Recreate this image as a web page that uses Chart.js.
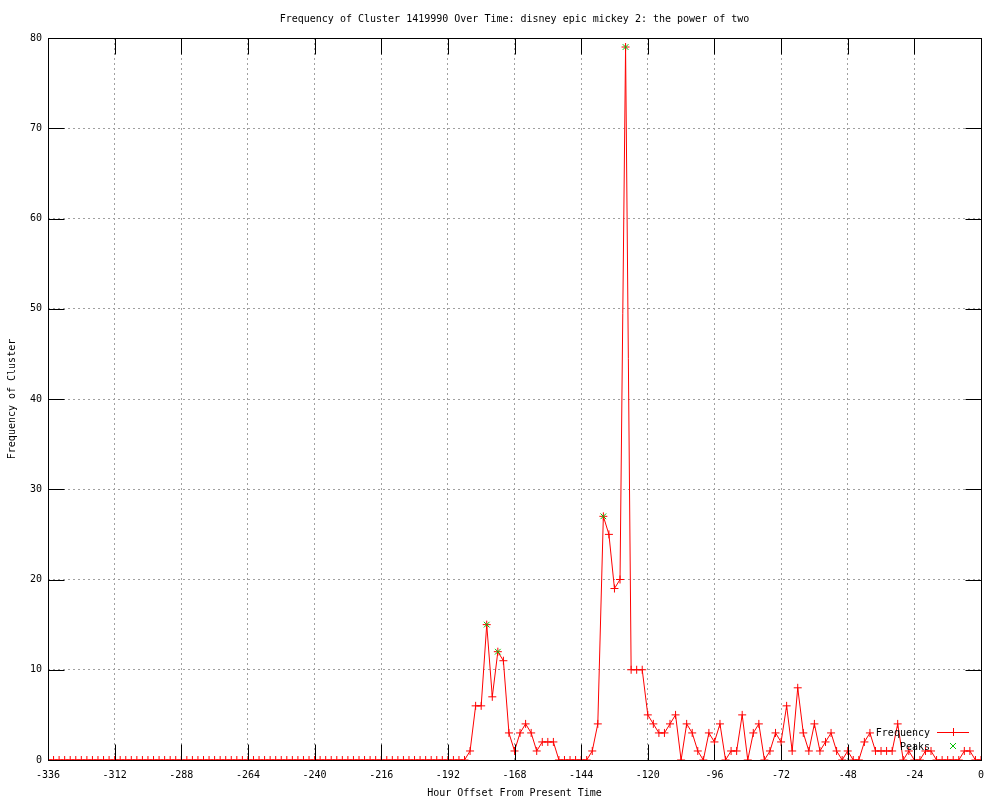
<!DOCTYPE html>
<html lang="en">
  <head>
    <meta charset="UTF-8" />
    <title>Frequency of Cluster 1419990</title>
    <script src="https://cdn.jsdelivr.net/npm/chart.js"></script>
    <style>
      html,
      body {
        margin: 0;
        padding: 0;
        background: #fff;
      }
      #wrap {
        width: 1000px;
        height: 800px;
      }
    </style>
  </head>
  <body>
    <div id="wrap"><canvas id="clusterChart"></canvas></div>

    <script>
      const chartTitle =
        "Frequency of Cluster 1419990 Over Time: disney epic mickey 2: the power of two";
      const xTitle = "Hour Offset From Present Time";
      const yTitle = "Frequency of Cluster";

      // one reading every 2 hours, from -336 up to 0
      const startHour = -336;
      const stepHours = 2;
      const frequency = [
        0, 0, 0, 0, 0, 0, 0, 0, 0, 0, 0, 0,
        0, 0, 0, 0, 0, 0, 0, 0, 0, 0, 0, 0,
        0, 0, 0, 0, 0, 0, 0, 0, 0, 0, 0, 0,
        0, 0, 0, 0, 0, 0, 0, 0, 0, 0, 0, 0,
        0, 0, 0, 0, 0, 0, 0, 0, 0, 0, 0, 0,
        0, 0, 0, 0, 0, 0, 0, 0, 0, 0, 0, 0,
        0, 0, 0, 0, 1, 6, 6, 15, 7, 12, 11, 3,
        1, 3, 4, 3, 1, 2, 2, 2, 0, 0, 0, 0,
        0, 0, 1, 4, 27, 25, 19, 20, 79, 10, 10, 10,
        5, 4, 3, 3, 4, 5, 0, 4, 3, 1, 0, 3,
        2, 4, 0, 1, 1, 5, 0, 3, 4, 0, 1, 3,
        2, 6, 1, 8, 3, 1, 4, 1, 2, 3, 1, 0,
        1, 0, 0, 2, 3, 1, 1, 1, 1, 4, 0, 1,
        0, 0, 1, 1, 0, 0, 0, 0, 0, 1, 1, 0,
        0,
      ];
      const hours = frequency.map((_, i) => startHour + stepHours * i);

      const peakHours = [-178, -174, -136, -128];
      const peakValues = [15, 12, 27, 79];

      const xTicks = [-336, -312, -288, -264, -240, -216, -192, -168, -144, -120, -96, -72, -48, -24, 0];
      const yTicks = [0, 10, 20, 30, 40, 50, 60, 70, 80];

      const red = "#ff0000";
      const green = "#00c000";
      const monoFont = "'DejaVu Sans Mono', monospace";

      Chart.defaults.font.family = monoFont;
      Chart.defaults.font.size = 10;
      Chart.defaults.color = "#000";

      // gnuplot style: title over the plot, closed frame, inward ticks, key at bottom right
      const gnuplotLook = {
        id: "gnuplotLook",
        afterDatasetsDraw(chart) {
          const { ctx, chartArea: a, scales } = chart;
          ctx.save();
          ctx.strokeStyle = "#000";
          ctx.lineWidth = 1;
          const L = Math.round(a.left) + 0.5;
          const R = Math.round(a.right) + 0.5;
          const T = Math.round(a.top) + 0.5;
          const B = Math.round(a.bottom) + 0.5;
          ctx.strokeRect(L, T, R - L, B - T);
          const tl = 16;
          ctx.beginPath();
          xTicks.forEach((v) => {
            const px = Math.round(scales.x.getPixelForValue(v)) + 0.5;
            ctx.moveTo(px, B);
            ctx.lineTo(px, B - tl);
            ctx.moveTo(px, T);
            ctx.lineTo(px, T + tl);
          });
          yTicks.forEach((v) => {
            const py = Math.round(scales.y.getPixelForValue(v)) + 0.5;
            ctx.moveTo(L, py);
            ctx.lineTo(L + tl, py);
            ctx.moveTo(R, py);
            ctx.lineTo(R - tl, py);
          });
          ctx.stroke();
          ctx.restore();
        },
        afterDraw(chart) {
          const { ctx, chartArea: a } = chart;
          ctx.save();
          ctx.font = "10px " + monoFont;
          ctx.fillStyle = "#000";
          ctx.textBaseline = "middle";
          ctx.textAlign = "center";
          ctx.fillText(chartTitle, (a.left + a.right) / 2, 19);

          // key
          const textX = a.right - 51;
          const y1 = a.bottom - 28;
          const y2 = a.bottom - 14;
          const mx = a.right - 28;
          ctx.textAlign = "right";
          ctx.fillText("Frequency", textX, y1 + 1);
          ctx.fillText("Peaks", textX, y2 + 1);
          ctx.lineWidth = 1;
          ctx.strokeStyle = red;
          ctx.beginPath();
          ctx.moveTo(a.right - 44, y1 + 0.5);
          ctx.lineTo(a.right - 12, y1 + 0.5);
          ctx.moveTo(mx + 0.5, y1 - 4);
          ctx.lineTo(mx + 0.5, y1 + 4);
          ctx.stroke();
          ctx.strokeStyle = green;
          ctx.beginPath();
          ctx.moveTo(mx - 3, y2 - 3);
          ctx.lineTo(mx + 3, y2 + 3);
          ctx.moveTo(mx + 3, y2 - 3);
          ctx.lineTo(mx - 3, y2 + 3);
          ctx.stroke();
          ctx.restore();
        },
      };

      const ctx = document.getElementById("clusterChart").getContext("2d");
      new Chart(ctx, {
        type: "line",
        data: {
          datasets: [
            {
              label: "Peaks",
              type: "scatter",
              data: peakHours.map((h, i) => ({ x: h, y: peakValues[i] })),
              showLine: false,
              pointStyle: "crossRot",
              pointRadius: 4,
              borderColor: green,
              backgroundColor: green,
              borderWidth: 1,
              order: 0,
            },
            {
              label: "Frequency",
              data: hours.map((h, i) => ({ x: h, y: frequency[i] })),
              borderColor: red,
              backgroundColor: red,
              borderWidth: 1,
              tension: 0,
              pointStyle: "cross",
              pointRadius: 4,
              pointBorderWidth: 1,
              order: 1,
            },
          ],
        },
        options: {
          responsive: true,
          maintainAspectRatio: false,
          animation: false,
          layout: { padding: { top: 38, right: 19, bottom: 0, left: 0 } },
          plugins: {
            legend: { display: false },
            title: { display: false },
            tooltip: { enabled: false },
          },
          scales: {
            x: {
              type: "linear",
              min: -336,
              max: 0,
              afterBuildTicks: (scale) => {
                scale.ticks = xTicks.map((v) => ({ value: v }));
              },
              afterFit: (scale) => {
                scale.height = 40;
              },
              ticks: {
                autoSkip: false,
                maxRotation: 0,
                padding: 9,
                callback: (v) => String(v),
              },
              grid: { color: "#a0a0a0", drawTicks: false },
              border: { display: false, dash: [2, 3] },
              title: {
                display: true,
                text: xTitle,
                padding: { top: 0, bottom: 0.5 },
              },
            },
            y: {
              type: "linear",
              min: 0,
              max: 80,
              afterBuildTicks: (scale) => {
                scale.ticks = yTicks.map((v) => ({ value: v }));
              },
              afterFit: (scale) => {
                scale.width = 48;
              },
              ticks: {
                padding: 6,
                callback: (v) => String(v),
              },
              grid: { color: "#a0a0a0", drawTicks: false },
              border: { display: false, dash: [2, 3] },
              title: {
                display: true,
                text: yTitle,
                padding: { top: 6.5, bottom: 0 },
              },
            },
          },
        },
        plugins: [gnuplotLook],
      });
    </script>
  </body>
</html>
